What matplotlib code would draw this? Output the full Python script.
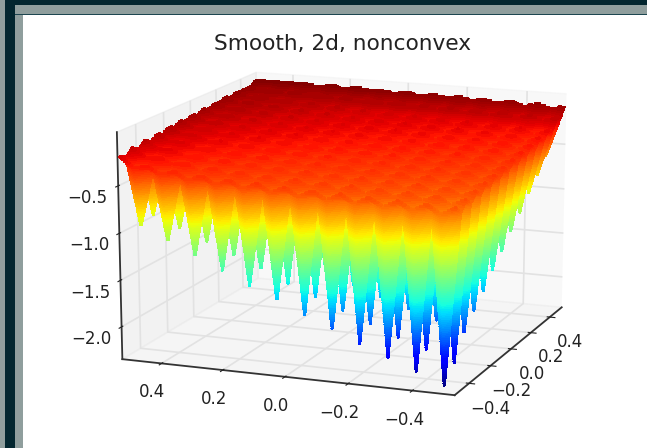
import numpy as np
import matplotlib
matplotlib.use('Agg')
import matplotlib.pyplot as plt
from matplotlib.patches import Rectangle

# Grid coordinates and tick labels
x_vals = [-.525, -.481, -.438, -.394, -.35, -.306, -.262, -.218, -.175, -.131, -.087, -.044, 0,
          .044, .087, .131, .175, .218, .262, .306, .35, .394, .438, .481, .525]
y_vals = list(x_vals)
xy_ticks = [-0.4, -0.2, 0.0, 0.2, 0.4]
z_ticks = [-2.0, -1.5, -1.0, -0.5]

# Surface heights, one row per x value
z_grid = [
    [-.44,-.52,-.43,-.50,-.42,-.49,-.41,-.48,-.40,-.47,-.39,-.46,-.38,-.44,-.36,-.43,-.35,-.41,-.33,-.39,-.31,-.35,-.28,-.30,-.20],
    [-.52,-2.32,-.50,-2.20,-.49,-2.08,-.48,-1.96,-.47,-1.84,-.46,-1.72,-.44,-1.59,-.43,-1.46,-.41,-1.33,-.40,-1.20,-.37,-1.07,-.33,-.94,-.24],
    [-.42,-.49,-.41,-.47,-.40,-.46,-.39,-.45,-.38,-.44,-.37,-.43,-.36,-.42,-.35,-.40,-.33,-.38,-.31,-.36,-.29,-.31,-.25,-.26,-.17],
    [-.49,-2.15,-.47,-2.05,-.46,-1.94,-.45,-1.83,-.44,-1.72,-.43,-1.60,-.42,-1.49,-.40,-1.36,-.38,-1.24,-.36,-1.12,-.33,-1.00,-.29,-.89,-.21],
    [-.40,-.46,-.39,-.45,-.38,-.44,-.37,-.43,-.36,-.41,-.35,-.40,-.34,-.39,-.33,-.37,-.31,-.35,-.29,-.33,-.27,-.28,-.23,-.23,-.15],
    [-.46,-1.91,-.45,-1.81,-.44,-1.71,-.43,-1.62,-.41,-1.52,-.40,-1.42,-.39,-1.32,-.37,-1.22,-.35,-1.13,-.33,-1.03,-.30,-.93,-.26,-.83,-.19],
    [-.38,-.44,-.37,-.43,-.36,-.41,-.35,-.40,-.34,-.39,-.33,-.37,-.32,-.36,-.31,-.35,-.29,-.33,-.27,-.30,-.25,-.26,-.21,-.21,-.14],
    [-.44,-1.76,-.43,-1.68,-.41,-1.58,-.40,-1.50,-.39,-1.41,-.37,-1.32,-.36,-1.23,-.35,-1.14,-.33,-1.05,-.30,-.96,-.28,-.87,-.24,-.78,-.17],
    [-.36,-.42,-.35,-.40,-.34,-.39,-.33,-.38,-.32,-.36,-.31,-.35,-.30,-.34,-.29,-.32,-.27,-.30,-.25,-.28,-.23,-.24,-.19,-.19,-.12],
    [-.42,-1.62,-.40,-1.54,-.39,-1.46,-.38,-1.37,-.36,-1.29,-.35,-1.21,-.34,-1.13,-.32,-1.05,-.30,-.97,-.28,-.89,-.26,-.81,-.22,-.73,-.15],
    [-.34,-.40,-.33,-.38,-.32,-.37,-.31,-.36,-.30,-.34,-.29,-.33,-.28,-.32,-.27,-.30,-.25,-.28,-.23,-.26,-.21,-.22,-.18,-.18,-.11],
    [-.40,-1.47,-.38,-1.40,-.37,-1.33,-.36,-1.25,-.34,-1.18,-.33,-1.11,-.32,-1.03,-.30,-.96,-.28,-.89,-.26,-.82,-.24,-.74,-.20,-.67,-.14],
    [-.32,-.38,-.31,-.36,-.30,-.35,-.29,-.34,-.28,-.32,-.27,-.31,-.26,-.30,-.25,-.28,-.23,-.26,-.21,-.24,-.19,-.20,-.16,-.16,-.10],
    [-.38,-1.33,-.36,-1.26,-.35,-1.20,-.34,-1.13,-.32,-1.07,-.31,-1.01,-.30,-.94,-.28,-.88,-.26,-.81,-.24,-.75,-.22,-.68,-.19,-.62,-.13],
    [-.30,-.36,-.29,-.34,-.28,-.33,-.27,-.32,-.26,-.30,-.25,-.29,-.24,-.28,-.23,-.26,-.21,-.24,-.19,-.22,-.17,-.18,-.14,-.15,-.09],
    [-.36,-1.18,-.34,-1.13,-.33,-1.07,-.32,-1.01,-.30,-.96,-.29,-.90,-.28,-.84,-.26,-.79,-.24,-.73,-.22,-.68,-.20,-.62,-.17,-.56,-.12],
    [-.28,-.34,-.27,-.32,-.26,-.31,-.25,-.30,-.24,-.28,-.23,-.27,-.22,-.26,-.21,-.24,-.19,-.22,-.17,-.20,-.15,-.16,-.12,-.13,-.08],
    [-.34,-1.04,-.32,-.99,-.31,-.94,-.30,-.89,-.28,-.84,-.27,-.80,-.26,-.75,-.24,-.70,-.22,-.65,-.20,-.60,-.18,-.56,-.15,-.51,-.10],
    [-.26,-.32,-.25,-.30,-.24,-.29,-.23,-.28,-.22,-.26,-.21,-.25,-.20,-.24,-.19,-.22,-.17,-.20,-.15,-.18,-.13,-.14,-.11,-.12,-.07],
    [-.32,-.89,-.30,-.85,-.29,-.81,-.28,-.77,-.26,-.73,-.25,-.69,-.24,-.65,-.22,-.61,-.20,-.57,-.18,-.53,-.16,-.49,-.13,-.46,-.09],
    [-.24,-.30,-.23,-.28,-.22,-.27,-.21,-.26,-.20,-.24,-.19,-.23,-.18,-.22,-.17,-.20,-.15,-.18,-.13,-.16,-.12,-.13,-.10,-.11,-.07],
    [-.28,-.75,-.26,-.71,-.25,-.68,-.24,-.65,-.22,-.62,-.21,-.59,-.20,-.56,-.18,-.53,-.17,-.50,-.15,-.46,-.14,-.43,-.12,-.40,-.08],
    [-.16,-.20,-.15,-.19,-.14,-.18,-.14,-.17,-.13,-.16,-.13,-.15,-.12,-.14,-.12,-.13,-.11,-.12,-.10,-.11,-.09,-.10,-.08,-.09,-.06],
    [-.18,-.60,-.16,-.58,-.15,-.55,-.14,-.53,-.13,-.51,-.13,-.49,-.12,-.46,-.12,-.44,-.11,-.42,-.10,-.39,-.10,-.37,-.09,-.35,-.06],
    [-.08,-.12,-.07,-.11,-.06,-.10,-.06,-.09,-.05,-.08,-.05,-.08,-.04,-.07,-.04,-.06,-.03,-.05,-.03,-.05,-.03,-.04,-.02,-.03,-.02],
]

plt.rcParams['grid.color'] = '#e2e2e2'
plt.rcParams['grid.linewidth'] = 1.2
plt.rcParams['axes.linewidth'] = 1.3
plt.rcParams['axes.edgecolor'] = '#333333'

W, H = 647, 448
fig = plt.figure(figsize=(W / 100, H / 100), dpi=100)

# Notebook page frame around the figure
for left, top, right, bottom, col in [(0, 0, 5, 448, '#8f9e9d'), (5, 0, 15, 448, '#02262f'),
                                      (15, 5, 647, 14, '#8f9e9d'), (15, 0, 647, 5, '#02262f'),
                                      (15, 14, 23, 448, '#8f9e9d'), (15, 14, 647, 15, '#1d4650')]:
    fig.add_artist(Rectangle((left / W, 1 - bottom / H), (right - left) / W, (bottom - top) / H,
                             transform=fig.transFigure, facecolor=col, edgecolor='none'))

# old mplot3d stretched the box to fill the axes, so skip the square aspect
ax_l, ax_t, ax_r, ax_b = 75, -6, 609, 466
ax = fig.add_axes([ax_l / W, 1 - ax_b / H, (ax_r - ax_l) / W, (ax_b - ax_t) / H], projection='3d')
ax.apply_aspect = lambda position=None: None
ax.patch.set_alpha(0)
X, Y = np.meshgrid(x_vals, y_vals, indexing='ij')
Z = np.array(z_grid)

levels = np.linspace(-2.32, -0.02, 121)
cs = ax.contourf(X, Y, Z, levels=levels, cmap='jet', extend='both')
cs.set_edgecolor('face')
cs.set_linewidth(1.5)

ax.view_init(elev=15, azim=201)
ax.set_xlim(-0.53, 0.53)
ax.set_ylim(-0.53, 0.53)
ax.set_zlim(-2.35, 0.06)
ax.set_xticks(xy_ticks)
ax.set_yticks(xy_ticks)
ax.set_zticks(z_ticks)
ax.tick_params(labelsize=12, colors='#222222', pad=4)
fig.text(343 / W, 1 - 44 / H, 'Smooth, 2d, nonconvex', fontsize=15.6, color='#222222', ha='center', va='center')

fig.savefig('out.png', dpi=100)
